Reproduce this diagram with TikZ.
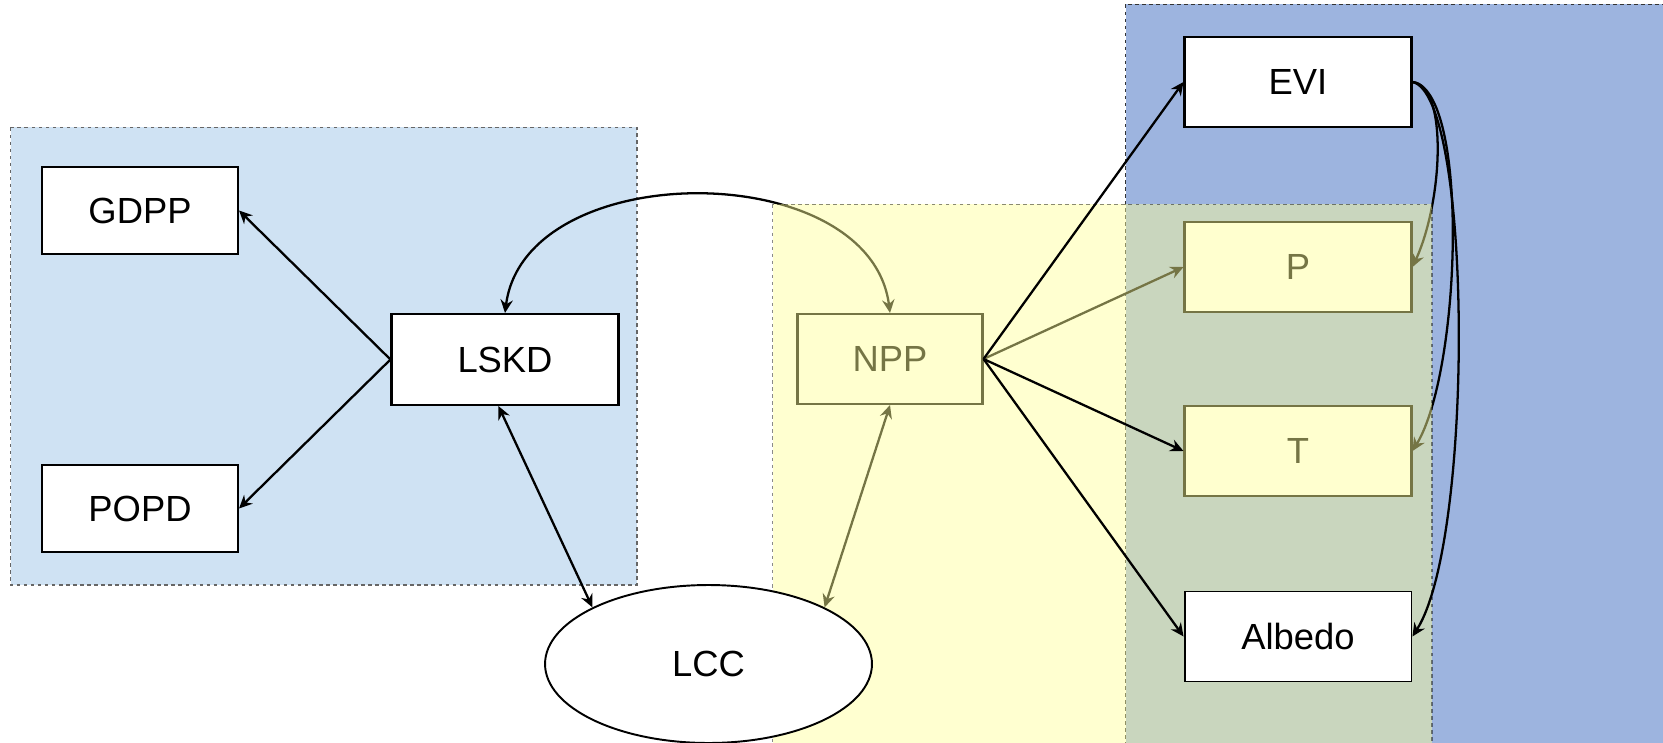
\documentclass[tikz,border=0pt]{standalone}
\usepackage{fontspec}
\setmainfont{Liberation Sans}
\usetikzlibrary{arrows.meta,shapes.geometric}
\definecolor{skyblue}{RGB}{207,226,243}
\definecolor{deepblue}{RGB}{157,180,223}
\definecolor{veilyellow}{RGB}{255,255,152}
\pgfdeclarelayer{back}
\pgfdeclarelayer{veil}
\pgfdeclarelayer{front}
\pgfsetlayers{back,main,veil,front}
\tikzset{
  box/.style={draw, fill=white, line width=1.2pt, minimum width=4.54cm, minimum height=1.8cm, inner sep=0pt},
  link/.style={line width=1.3pt},
  region/.style={dash pattern=on 2pt off 2pt, line width=0.6pt}
}

\begin{document}
\begin{tikzpicture}[x=0.02cm, y=-0.02cm, >={Stealth[length=7.5pt,width=7pt,inset=2.5pt]}, font=\fontsize{20.7pt}{24pt}\selectfont]
    \useasboundingbox (0,0) rectangle (1663,743);

    % groups
    \begin{pgfonlayer}{back}
      \draw[region, fill=skyblue, draw=black!60] (10.5,127.5) rectangle (637,585);
      \draw[region, fill=deepblue, draw=black!80] (1125.5,4.5) rectangle (1700,800);
    \end{pgfonlayer}

    \node[box, minimum width=3.92cm, minimum height=1.74cm] (gdpp) at (140,210.5) {GDPP};
    \node[box, minimum width=3.92cm, minimum height=1.74cm] (popd) at (140,508.5) {POPD};
    \node[box, minimum height=1.82cm] (lskd) at (505,359.5) {LSKD};
    \node[box, minimum width=3.7cm] (npp) at (890,359) {NPP};
    \node[box] (evi) at (1298,82) {EVI};
    \node[box] (p) at (1298,267) {P};
    \node[box] (t) at (1298,451) {T};
    \begin{pgfonlayer}{front}
      \node[box, line width=1.1pt] (albedo) at (1298,636.5) {Albedo};
      \node[box, line width=1.1pt, ellipse, minimum width=6.54cm, minimum height=3.16cm] (lcc) at (708.5,664) {LCC};
    \end{pgfonlayer}

    \draw[link, ->] (npp.east) -- (p.west);
    \draw[link, <->] (lskd.north) .. controls +(20,-157) and +(-20,-157) .. (npp.north);
    \draw[link, <->] (npp.south) -- (lcc.26);
    \draw[link, ->] (evi.east) .. controls +(35,3) and +(31,-68) .. (p.east);
    \draw[link, ->] (evi.east) .. controls +(57,8) and +(49,-81) .. (t.east);

    % yellow group lies over what is drawn above
    \begin{pgfonlayer}{veil}
      \fill[veilyellow, opacity=0.46] (772.5,204.5) rectangle (1432,800);
      \draw[region, opacity=0.46] (772.5,204.5) rectangle (1432,800);
    \end{pgfonlayer}

    \begin{pgfonlayer}{front}
      \draw[link, ->] (npp.east) -- (evi.west);
      \draw[link, ->] (npp.east) -- (t.west);
      \draw[link, ->] (npp.east) -- (albedo.west);
      \draw[link, ->] (evi.east) .. controls +(60,13) and +(62,-97) .. (albedo.east);
    \end{pgfonlayer}
    \draw[link, ->] (lskd.west) -- (gdpp.east);
    \draw[link, ->] (lskd.west) -- (popd.east);
    \draw[link, <->] (lskd.262) -- (lcc.154);
\end{tikzpicture}
\end{document}
